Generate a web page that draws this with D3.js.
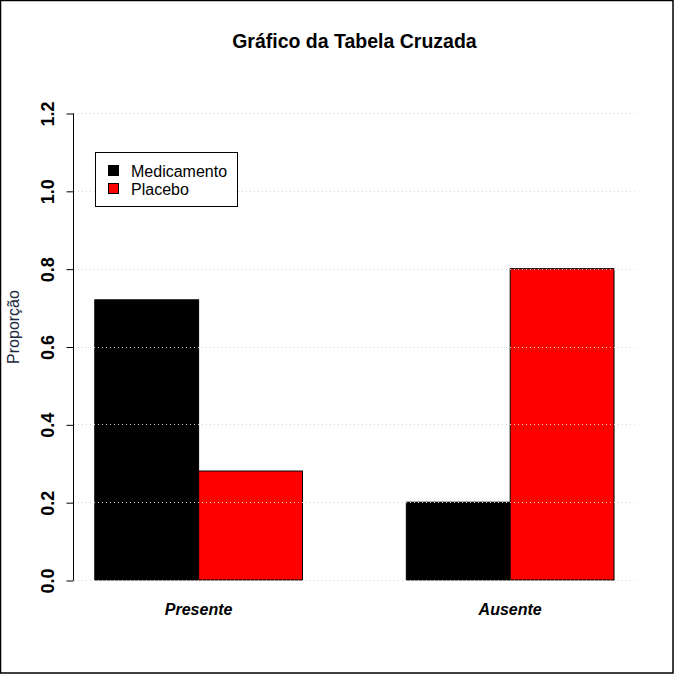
<!DOCTYPE html>
<html><head><meta charset="utf-8">
<script src="https://cdn.jsdelivr.net/npm/d3@7"></script>
<style>body{margin:0;background:#fff}svg{display:block}</style>
</head><body>
<script>
const categories = ["Presente", "Ausente"];
const seriesNames = ["Medicamento", "Placebo"];
const medicamento = [0.72, 0.20];
const placebo = [0.28, 0.80];
const yTicks = [0.0, 0.2, 0.4, 0.6, 0.8, 1.0, 1.2];
const colors = ["#000000", "#ff0000"];

const W = 674, H = 674;
const svg = d3.select("body").append("svg").attr("width", W).attr("height", H)
  .style("font-family", "'Liberation Sans', Arial, sans-serif");

svg.append("rect").attr("x", 0.5).attr("y", 0.5).attr("width", W - 1.5).attr("height", H - 1.5)
  .attr("fill", "#fff").attr("stroke", "#000").attr("stroke-width", 1.5);

const plotL = 74, plotR = 634.8, plotB = 580, plotT = 113;
// R-like bar coordinates: bars at [1,2],[2,3],[4,5],[5,6]; xlim [0.8, 6.2]
const x = d3.scaleLinear().domain([0.8, 6.2]).range([plotL, plotR]);
const y = d3.scaleLinear().domain([0, 1.2]).range([plotB, plotT]);

const series = [medicamento, placebo];
const bars = [];
categories.forEach((c, i) => {
  series.forEach((s, j) => {
    const left = 1 + i * 3 + j;
    bars.push({left, v: s[i], color: colors[j]});
  });
});

svg.append("g").selectAll("rect").data(bars).join("rect")
  .attr("x", d => x(d.left)).attr("width", d => x(d.left + 1) - x(d.left))
  .attr("y", d => y(d.v)).attr("height", d => y(0) - y(d.v))
  .attr("fill", d => d.color).attr("stroke", "#000").attr("stroke-width", 1);

// grid (on top)
svg.append("g").selectAll("line").data(yTicks).join("line")
  .attr("x1", plotL).attr("x2", plotR)
  .attr("y1", d => Math.round(y(d)) + 0.5).attr("y2", d => Math.round(y(d)) + 0.5)
  .attr("stroke", "#d3d3d3").attr("stroke-width", 1).attr("stroke-dasharray", "1,3");

// y axis
const yAxis = d3.axisLeft(y).tickValues(yTicks).tickFormat(d3.format(".1f")).tickSize(7).tickPadding(0);
const ga = svg.append("g").attr("transform", `translate(${plotL - 0.5},0.5)`).call(yAxis);
ga.selectAll(".domain").attr("d", `M0,${Math.round(y(0))}V${Math.round(y(1.2))}`).attr("stroke", "#000");
ga.selectAll(".tick text").remove();
ga.selectAll(".tick").append("text")
  .attr("transform", "translate(-26,0) rotate(-90)")
  .attr("text-anchor", "middle").attr("dy", "0.35em")
  .attr("fill", "#000").attr("font-weight", "bold").attr("font-size", 18)
  .attr("font-family", "'Liberation Sans', Arial, sans-serif")
  .text(d => d3.format(".1f")(d));

// x labels
svg.append("g").selectAll("text").data(categories).join("text")
  .attr("x", (d, i) => x(2 + i * 3)).attr("y", 615)
  .attr("text-anchor", "middle").attr("font-weight", "bold").attr("font-style", "italic")
  .attr("font-size", 16).text(d => d);

// title
svg.append("text").attr("x", (plotL + plotR) / 2).attr("y", 48).attr("text-anchor", "middle")
  .attr("font-weight", "bold").attr("font-size", 19.5).text("Gráfico da Tabela Cruzada");

// y label
svg.append("text").attr("transform", `translate(19,327) rotate(-90)`)
  .attr("text-anchor", "middle").attr("font-size", 16).attr("fill", "#1e2a40").text("Proporção");

// legend
const lg = svg.append("g");
lg.append("rect").attr("x", 95.5).attr("y", 152.5).attr("width", 142).attr("height", 54)
  .attr("fill", "#fff").attr("stroke", "#000");
seriesNames.forEach((n, j) => {
  lg.append("rect").attr("x", 108.5).attr("y", 165.5 + j * 18).attr("width", 10).attr("height", 10)
    .attr("fill", colors[j]).attr("stroke", "#000");
  lg.append("text").attr("x", 131).attr("y", 177 + j * 18).attr("font-size", 16).attr("fill", "#000").text(n);
});
</script>
</body></html>
